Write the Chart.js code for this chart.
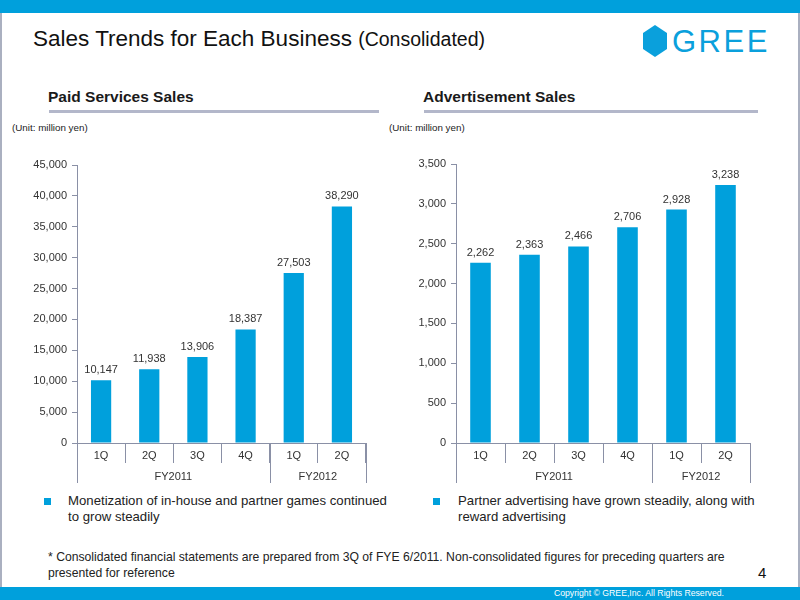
<!doctype html>
<html>
<head>
<meta charset="utf-8">
<title>Sales Trends for Each Business</title>
<script src="https://cdn.jsdelivr.net/npm/chart.js@4.4.1/dist/chart.umd.min.js"></script>
<style>
  body { margin: 0; }
  #page { position: relative; width: 800px; height: 600px; overflow: hidden; background: #fff;
          font-family: "Liberation Sans", Arial, sans-serif; color: #111; }
  .abs { position: absolute; white-space: nowrap; }
  .bar-top { left: 0; top: 0; width: 800px; height: 13px; background: #00a0dc; }
  .bar-bottom { left: 0; top: 587px; width: 800px; height: 13px; background: #00a0dc; }
  .side { top: 13px; width: 2px; height: 574px; background: #aab0c0; }
  .title { left: 33px; top: 26px; font-size: 22.5px; }
  .title small { font-size: 19.5px; }
  .hex { left: 643px; top: 25px; width: 24px; height: 32px; background: #0aa0dc;
         clip-path: polygon(50% 0, 100% 25%, 100% 75%, 50% 100%, 0 75%, 0 25%); }
  .logo { left: 672px; top: 26px; font-size: 31px; line-height: 31px; color: #0aa0dc; letter-spacing: 2.5px; }
  .sub { top: 88px; font-size: 15.5px; font-weight: bold; color: #1a1a1a; }
  .rule { top: 110px; height: 3px; background: #b3b7ca; }
  .unit { top: 122px; font-size: 9.8px; color: #222; }
  .sq { top: 498px; width: 7px; height: 7px; background: #00a0dc; }
  .note { top: 493px; font-size: 13.2px; line-height: 16px; color: #222; }
  .foot { left: 48px; top: 549px; font-size: 12.2px; line-height: 16px; color: #222; }
  .pnum { left: 758px; top: 564px; font-size: 15px; }
  .copy { right: 76px; top: 588px; font-size: 8.7px; color: #fff;
          font-family: "Liberation Sans Narrow", "Liberation Sans", sans-serif; }
  canvas { position: absolute; }
</style>
</head>
<body>
<div id="page">
  <div class="abs bar-top"></div>
  <div class="abs side" style="left:0"></div>
  <div class="abs side" style="left:798px"></div>
  <div class="abs bar-bottom"></div>

  <div class="abs title">Sales Trends for Each Business <small>(Consolidated)</small></div>
  <div class="abs hex"></div>
  <div class="abs logo">GREE</div>

  <div class="abs sub" style="left:48px">Paid Services Sales</div>
  <div class="abs rule" style="left:49px;width:330px"></div>
  <div class="abs sub" style="left:423px">Advertisement Sales</div>
  <div class="abs rule" style="left:424px;width:334px"></div>

  <div class="abs unit" style="left:12px">(Unit: million yen)</div>
  <div class="abs unit" style="left:389px">(Unit: million yen)</div>

  <canvas id="paidChart" width="400" height="340" style="left:0;top:150px"></canvas>
  <canvas id="adChart" width="400" height="340" style="left:400px;top:150px"></canvas>

  <div class="abs sq" style="left:44px"></div>
  <div class="abs note" style="left:68px">Monetization of in-house and partner games continued<br>to grow steadily</div>
  <div class="abs sq" style="left:433px"></div>
  <div class="abs note" style="left:458px">Partner advertising have grown steadily, along with<br>reward advertising</div>

  <div class="abs foot">* Consolidated financial statements are prepared from 3Q of FYE 6/2011. Non-consolidated figures for preceding quarters are<br>presented for reference</div>
  <div class="abs pnum">4</div>
  <div class="abs copy">Copyright © GREE,Inc. All Rights Reserved.</div>
</div>

<script>
// data
var quarters = ['1Q', '2Q', '3Q', '4Q', '1Q', '2Q'];
var fiscalYears = ['FY2011', 'FY2012'];
var fyQuarters = [4, 2];
var paidSales = [10147, 11938, 13906, 18387, 27503, 38290];
var adSales = [2262, 2363, 2466, 2706, 2928, 3238];

var blue = '#00a0dc';
var axisColor = '#8a90a6';
var textColor = '#333';
Chart.defaults.font.family = '"Liberation Sans", Arial, sans-serif';
Chart.defaults.font.size = 11;
Chart.defaults.color = textColor;

// numbers above the bars
var valueLabels = {
    id: 'valueLabels',
    afterDatasetsDraw: function(chart) {
        var ctx = chart.ctx;
        var meta = chart.getDatasetMeta(0);
        var data = chart.data.datasets[0].data;
        ctx.save();
        ctx.fillStyle = textColor;
        ctx.font = '11px "Liberation Sans", Arial, sans-serif';
        ctx.textAlign = 'center';
        ctx.textBaseline = 'alphabetic';
        meta.data.forEach(function(bar, i) {
            ctx.fillText(data[i].toLocaleString('en-US'), bar.x, bar.y - 7);
        });
        ctx.restore();
    }
};

// second row of the x axis: fiscal years
var fyGroups = {
    id: 'fyGroups',
    afterDraw: function(chart) {
        var x = chart.scales.x;
        var ctx = chart.ctx;
        var step = x.getPixelForValue(1) - x.getPixelForValue(0);
        var edge = function(i) { return x.getPixelForValue(i) - step / 2; };
        ctx.save();
        ctx.strokeStyle = axisColor;
        ctx.lineWidth = 1;
        ctx.fillStyle = textColor;
        ctx.font = '11px "Liberation Sans", Arial, sans-serif';
        ctx.textAlign = 'center';
        ctx.textBaseline = 'middle';
        var start = 0;
        fiscalYears.forEach(function(fy, g) {
            var end = start + fyQuarters[g];
            [start, end].forEach(function(i) {
                var px = Math.round(edge(i)) + 0.5;
                ctx.beginPath();
                ctx.moveTo(px, x.top);
                ctx.lineTo(px, x.top + 40);
                ctx.stroke();
            });
            ctx.fillText(fy, (edge(start) + edge(end)) / 2, x.top + 34);
            start = end;
        });
        ctx.restore();
    }
};

function makeChart(id, values, maxY, stepY, yWidth, padding) {
    var ctx = document.getElementById(id).getContext('2d');
    return new Chart(ctx, {
        type: 'bar',
        data: {
            labels: quarters,
            datasets: [{
                data: values,
                backgroundColor: blue,
                barPercentage: 0.42,
                categoryPercentage: 1.0
            }]
        },
        options: {
            responsive: false,
            animation: false,
            layout: { padding: padding },
            plugins: { legend: { display: false }, tooltip: { enabled: false } },
            scales: {
                x: {
                    grid: { offset: true, drawOnChartArea: false, tickLength: 20, color: axisColor },
                    border: { display: true, color: axisColor },
                    ticks: { padding: -14, color: textColor },
                    afterFit: function(s) { s.height = 40; }
                },
                y: {
                    min: 0,
                    max: maxY,
                    ticks: { stepSize: stepY, padding: 5, color: textColor },
                    grid: { drawOnChartArea: false, tickLength: 5, color: axisColor },
                    border: { display: true, color: axisColor },
                    afterFit: function(s) { s.width = yWidth; }
                }
            }
        },
        plugins: [valueLabels, fyGroups]
    });
}

makeChart('paidChart', paidSales, 45000, 5000, 50, { left: 27, right: 34, top: 15, bottom: 7 });
makeChart('adChart', adSales, 3500, 500, 45, { left: 11, right: 50, top: 14, bottom: 7 });
</script>
</body>
</html>
